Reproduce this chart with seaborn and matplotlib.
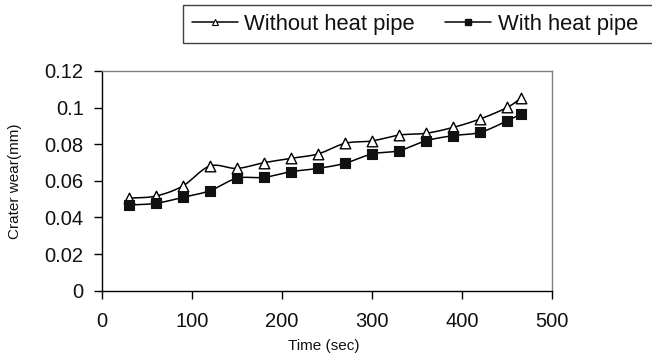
import numpy as np
import pandas as pd
import seaborn as sns
import matplotlib
matplotlib.use("Agg")
import matplotlib.pyplot as plt
from matplotlib.lines import Line2D
from matplotlib.patches import Rectangle

# ---- data ----
time_sec = [30, 60, 90, 120, 150, 180, 210, 240, 270, 300, 330, 360, 390, 420, 450, 465]
without_heat_pipe = [0.0505, 0.0517, 0.0572, 0.0681, 0.0668, 0.0699, 0.0723, 0.0747,
                     0.0805, 0.0818, 0.0850, 0.0860, 0.0892, 0.0938, 0.1001, 0.1051]
with_heat_pipe = [0.0468, 0.0477, 0.0510, 0.0546, 0.0614, 0.0619, 0.0650, 0.0668,
                  0.0696, 0.0747, 0.0765, 0.0819, 0.0847, 0.0865, 0.0928, 0.0965]
series_names = ["Without heat pipe", "With heat pipe"]
x_ticks = [0, 100, 200, 300, 400, 500]
y_ticks = [0, 0.02, 0.04, 0.06, 0.08, 0.1, 0.12]
y_tick_labels = ["0", "0.02", "0.04", "0.06", "0.08", "0.1", "0.12"]


def smooth(xs, ys, n=20):
    """Catmull-Rom style smoothing (like a spreadsheet 'smoothed line')."""
    xs = np.asarray(xs, float)
    ys = np.asarray(ys, float)
    px = np.concatenate([[2 * xs[0] - xs[1]], xs, [2 * xs[-1] - xs[-2]]])
    py = np.concatenate([[2 * ys[0] - ys[1]], ys, [2 * ys[-1] - ys[-2]]])
    outx, outy = [], []
    t = np.linspace(0, 1, n, endpoint=False)
    for i in range(1, len(px) - 2):
        p0x, p1x, p2x, p3x = px[i - 1:i + 3]
        p0y, p1y, p2y, p3y = py[i - 1:i + 3]
        c1x = p1x + (p2x - p0x) / 6
        c1y = p1y + (p2y - p0y) / 6
        c2x = p2x - (p3x - p1x) / 6
        c2y = p2y - (p3y - p1y) / 6
        bx = (1 - t) ** 3 * p1x + 3 * (1 - t) ** 2 * t * c1x + 3 * (1 - t) * t ** 2 * c2x + t ** 3 * p2x
        by = (1 - t) ** 3 * p1y + 3 * (1 - t) ** 2 * t * c1y + 3 * (1 - t) * t ** 2 * c2y + t ** 3 * p2y
        outx.extend(bx)
        outy.extend(by)
    outx.append(xs[-1])
    outy.append(ys[-1])
    return np.array(outx), np.array(outy)


sns.set_style("white")
plt.rcParams["font.family"] = ["Liberation Sans", "DejaVu Sans"]

fig = plt.figure(figsize=(6.52, 3.55), dpi=100)
ax = fig.add_axes([101.7 / 652, 1 - 290.7 / 355, 450.6 / 652, 219.7 / 355])

curves = []
for name, vals in zip(series_names, [without_heat_pipe, with_heat_pipe]):
    sx, sy = smooth(time_sec, vals)
    curves.append(pd.DataFrame({"x": sx, "y": sy, "series": name}))
curve_df = pd.concat(curves, ignore_index=True)
sns.lineplot(data=curve_df, x="x", y="y", units="series", estimator=None, sort=False,
             color="black", linewidth=1.1, ax=ax, legend=False)

pts = pd.DataFrame({"time": time_sec * 2,
                    "wear": without_heat_pipe + with_heat_pipe,
                    "series": [series_names[0]] * len(time_sec) + [series_names[1]] * len(time_sec)})
sns.scatterplot(data=pts[pts.series == series_names[0]], x="time", y="wear", marker="^",
                s=58, color="white", edgecolor="black", linewidth=1.0, ax=ax, zorder=3, legend=False)
sns.scatterplot(data=pts[pts.series == series_names[1]], x="time", y="wear", marker="s",
                s=50, color="#111111", edgecolor="#111111", linewidth=0.8, ax=ax, zorder=3, legend=False)

ax.set_xlim(0, 500)
ax.set_ylim(0, 0.12)
ax.set_xticks(x_ticks)
ax.set_xticklabels([str(v) for v in x_ticks])
ax.set_yticks(y_ticks)
ax.set_yticklabels(y_tick_labels)
ax.tick_params(axis="both", direction="out", length=6, width=1, colors="black",
               labelsize=14.5, labelcolor="#111111")
ax.tick_params(axis="y", pad=7)
ax.tick_params(axis="x", pad=9)
ax.tick_params(left=True, bottom=True)

for s in ["left", "bottom"]:
    ax.spines[s].set_color("black")
    ax.spines[s].set_linewidth(1.0)
for s in ["top", "right"]:
    ax.spines[s].set_color("#808080")
    ax.spines[s].set_linewidth(1.0)

ax.set_xlabel("Time (sec)", fontsize=11, color="#111111")
ax.set_ylabel("Crater wear(mm)", fontsize=11, color="#111111")
ax.xaxis.label.set_va("center")
ax.yaxis.label.set_va("center")
ax.xaxis.set_label_coords(0.493, (290.7 - 346) / 219.7)
ax.yaxis.set_label_coords((15 - 101.7) / 450.6, 0.496)

# legend frame (extends past the right edge as in the reference)
fig.patches.append(Rectangle((182.7 / 652, 1 - 43 / 355), (680 - 182.7) / 652, 38 / 355,
                             transform=fig.transFigure, facecolor="white",
                             edgecolor="#404040", linewidth=1.0, zorder=0))

handles = [
    Line2D([], [], color="black", linewidth=1.1, marker="^", markersize=5,
           markerfacecolor="white", markeredgecolor="black", markeredgewidth=0.8),
    Line2D([], [], color="black", linewidth=1.1, marker="s", markersize=5,
           markerfacecolor="#111111", markeredgecolor="#111111"),
]
leg = fig.legend(handles, series_names, loc="center left",
                 bbox_to_anchor=(191.7 / 652, 1 - 24.5 / 355), ncol=2, frameon=False,
                 fontsize=15.8, handlelength=2.1, handletextpad=0.28,
                 columnspacing=1.4, borderaxespad=0, borderpad=0)
for t in leg.get_texts():
    t.set_color("#111111")

fig.savefig("out.png", dpi=100)
